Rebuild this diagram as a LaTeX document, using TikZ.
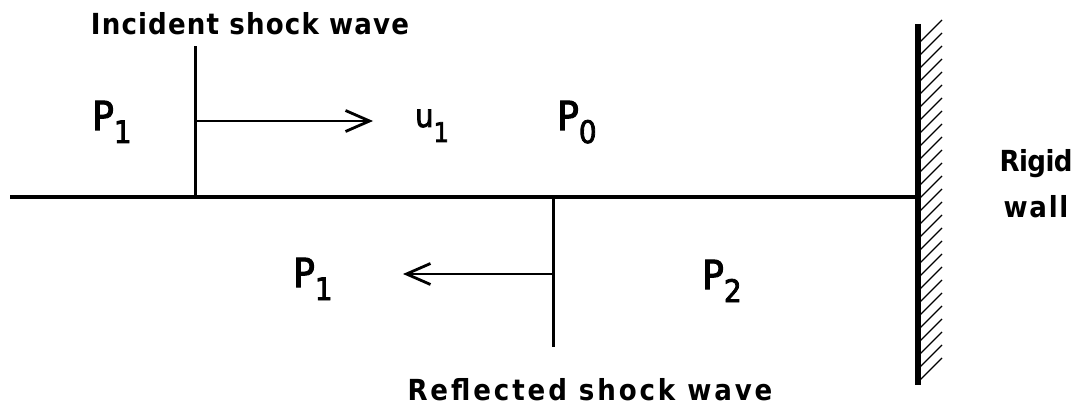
\documentclass[tikz,border=0pt]{standalone}
\usepackage{fontspec}
\setmainfont{DejaVu Sans Condensed}
\newfontfamily\lblfont{DejaVu Sans Condensed Bold}
\usetikzlibrary{arrows.meta}
\newcommand{\Psub}[1]{P\raisebox{-13pt}{\fontsize{31}{31}\selectfont #1}}
\begin{document}
\begin{tikzpicture}[x=1pt,y=-1pt,
  lbl/.style={font=\lblfont\fontsize{29}{30}\selectfont\addfontfeature{LetterSpace=#1}, inner sep=0pt, anchor=base},
  pl/.style={font=\fontsize{40}{40}\selectfont\addfontfeature{FakeBold=2.6}, inner sep=0pt, anchor=base west},
  shock/.style={line width=3pt},
  flow/.style={line width=2.8pt, -{Straight Barb[length=24pt,width=21pt,line width=2.8pt]}}]
\useasboundingbox (0,0) rectangle (1089,414);
% coordinates
\coordinate (L) at (10,197);
\coordinate (W) at (918,197);
\coordinate (Wt) at (918,24);
\coordinate (Wb) at (918,385);
\coordinate (Ib) at (195,197);
\coordinate (It) at (195,46);
\coordinate (Ia) at (195,121);
\coordinate (Ae) at (373,121);
\coordinate (Rt) at (553,197);
\coordinate (Rb) at (553,347);
\coordinate (Ra) at (553,274);
\coordinate (Be) at (403,274);
% base line and wall
\draw[line width=4pt] (L) -- (W);
\draw[line width=6pt] (Wt) -- (Wb);
\foreach \y in {42,55,...,385} \draw[line width=1.3pt] (920,\y) -- (942,\y-22);
% shocks
\draw[shock] (Ib) -- (It);
\draw[shock] (Rt) -- (Rb);
\draw[flow] (Ia) -- (Ae);
\draw[flow] (Ra) -- (Be);
% labels
\node[lbl=4] (inc) at (250,35) {Incident shock wave};
\node[lbl=10] (ref) at (590,400) {Reflected shock wave};
\node[lbl=-2] (rig) at (1036,172) {Rigid};
\node[lbl=6] (wal) at (1036,217) {wall};
\node[pl] (p1a) at (92,130) {\Psub{1}};
\node[pl,font=\fontsize{32}{32}\selectfont\addfontfeature{FakeBold=2.6}] (u1) at (415,127) {u\raisebox{-15pt}{\fontsize{27}{27}\selectfont 1}};
\node[pl] (p0) at (557,130) {\Psub{0}};
\node[pl] (p1b) at (293,287) {\Psub{1}};
\node[pl] (p2) at (702,289) {\Psub{2}};
\end{tikzpicture}
\end{document}
